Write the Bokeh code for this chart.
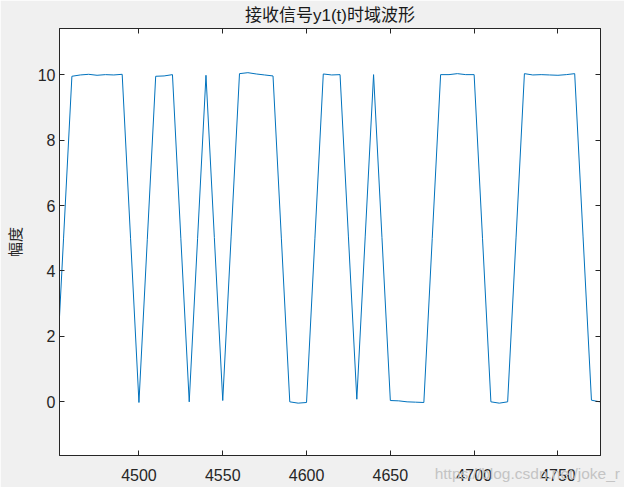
from bokeh.plotting import figure
from bokeh.models import FixedTicker, LinearAxis, Range1d
from bokeh.embed import file_html
from bokeh.resources import INLINE

# sample times (every 5 units)
time = list(range(4450, 4780, 5))
# received signal y1(t) amplitude
amplitude = [
    0.02, 4.98, 9.95, 9.99, 10.01, 9.98, 10.00, 9.99, 10.01, 5.00,
    -0.02, 4.97, 9.95, 9.96, 10.00, 5.00, 0.00, 5.00, 9.98, 5.02,
    0.04, 5.04, 10.03, 10.06, 10.02, 9.99, 9.96, 4.98, 0.00, -0.04,
    -0.02, 5.00, 10.02, 9.99, 10.00, 5.04, 0.08, 5.04, 10.00, 5.02,
    0.04, 0.03, 0.00, -0.01, -0.02, 4.99, 10.00, 10.00, 10.03, 10.00,
    10.00, 5.00, 0.00, -0.04, 0.00, 5.01, 10.03, 9.99, 10.00, 9.99,
    9.98, 10.00, 10.03, 5.04, 0.05, 0.00,
]
x_ticks = [4500, 4550, 4600, 4650, 4700, 4750]
y_ticks = [0, 2, 4, 6, 8, 10]
title_text = "接收信号y1(t)时域波形"
ylabel_text = "幅度"
watermark = "https://blog.csdn.net/joke_r"

AX = "#262626"
BG = "#f0f0f0"

p = figure(width=624, height=487, output_backend="svg", toolbar_location=None,
           x_range=Range1d(4452.6, 4775.4), y_range=Range1d(-1.64, 11.41),
           min_border_left=57, min_border_right=24, min_border_top=28, min_border_bottom=32,
           background_fill_color="white", border_fill_color=BG)

p.line(time, amplitude, line_color="#0072BD", line_width=1)

p.grid.visible = False
p.outline_line_color = AX

p.title.text = title_text
p.title.align = "center"
p.title.text_font = "Liberation Sans, Noto Sans CJK SC"
p.title.text_font_size = "17px"
p.title.text_font_style = "normal"
p.title.text_color = "#1a1a1a"
p.title.offset = 0
p.title.standoff = 7

def style_axis(ax, labels=True):
    ax.axis_line_color = AX
    ax.major_tick_line_color = AX
    ax.major_tick_in = 5
    ax.major_tick_out = 0
    ax.minor_tick_line_color = None
    ax.major_label_text_font = "Liberation Sans"
    ax.major_label_text_font_size = "16px" if labels else "0px"
    ax.major_label_text_color = AX if labels else None
    ax.major_label_standoff = 5 if labels else 0

xa = p.xaxis[0]
xa.ticker = FixedTicker(ticks=x_ticks)
style_axis(xa)
xa.major_label_standoff = 13
# blog watermark sits on the tick-label row at the lower right;
# trailing no-break spaces shift the centred label so it stays on the canvas
xa.axis_label = watermark + "\u00a0" * 34
xa.axis_label_align = "end"
xa.axis_label_standoff = -19
xa.axis_label_text_font = "Liberation Sans"
xa.axis_label_text_font_size = "15.5px"
xa.axis_label_text_font_style = "normal"
xa.axis_label_text_color = "#c4c4c4"

ya = p.yaxis[0]
ya.ticker = FixedTicker(ticks=y_ticks)
style_axis(ya)
ya.major_label_standoff = 4
ya.axis_label = ylabel_text
ya.axis_label_text_font = "Noto Sans CJK SC"
ya.axis_label_text_font_size = "15px"
ya.axis_label_text_font_style = "normal"
ya.axis_label_text_color = AX
ya.axis_label_standoff = 10

top = LinearAxis(ticker=FixedTicker(ticks=x_ticks))
style_axis(top, labels=False)
p.add_layout(top, "above")
right = LinearAxis(ticker=FixedTicker(ticks=y_ticks))
style_axis(right, labels=False)
p.add_layout(right, "right")

html = file_html(p, INLINE)
html = html.replace("<body>", '<body style="background:#f0f0f0">', 1)
open("out.html", "w").write(html)
